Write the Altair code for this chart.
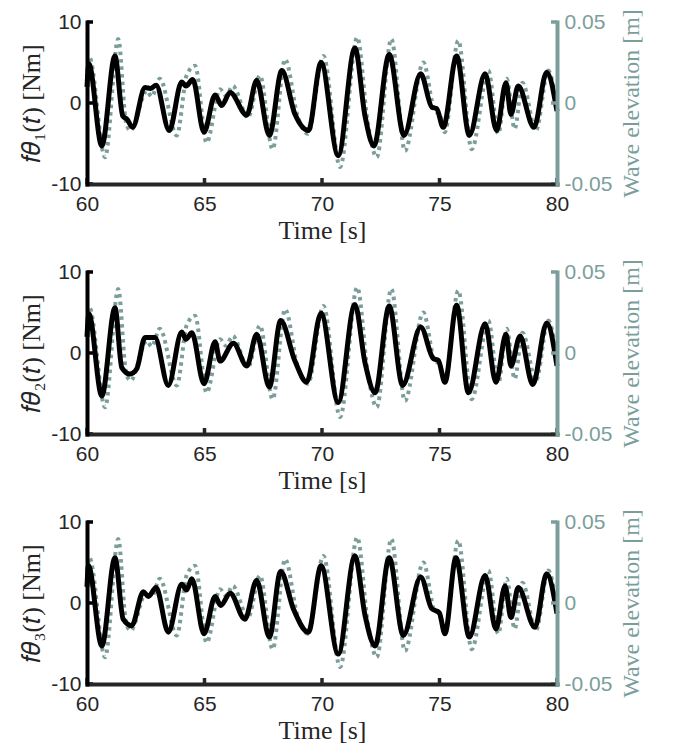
import altair as alt
import pandas as pd

# ---------------- data ----------------
# Force, panel 1  (time [s], force [Nm])
t1 = [60.0, 60.08, 60.63, 61.19, 61.52, 61.7, 61.94, 62.47, 62.7, 62.94, 63.50, 64.03, 64.21, 64.50,
      64.98, 65.45, 65.73, 66.09, 66.80, 67.22, 67.76, 68.29, 68.85, 69.42, 69.96, 70.69, 71.40, 71.83,
      72.21, 72.86, 73.49, 74.20, 74.67, 74.88, 75.16, 75.73, 76.27, 76.94, 77.43, 77.83, 78.04, 78.35,
      79.02, 79.56, 80.0]
f1 = [2.0, 4.8, -5.3, 5.8, -1.6, -2.0, -3.0, 1.9, 1.8, 2.2, -3.4, 2.6, 2.1, 2.9,
      -3.6, 1.0, -0.3, 1.3, -1.5, 2.8, -4.0, 4.0, -1.4, -3.4, 5.0, -6.5, 6.8, -1.6,
      -5.3, 6.0, -4.0, 3.6, -0.5, -0.7, -3.0, 5.8, -4.0, 3.6, -3.4, 2.5, -1.4, 2.1,
      -3.0, 3.8, -1.0]

# Force, panel 2
t2 = [60.0, 60.08, 60.63, 61.19, 61.48, 61.83, 62.11, 62.47, 62.89, 63.46, 64.03, 64.21, 64.46, 64.98,
      65.45, 65.66, 66.23, 66.80, 67.22, 67.76, 68.24, 68.85, 69.35, 69.96, 70.69, 71.40, 71.83, 72.26,
      72.86, 73.43, 74.20, 74.74, 74.95, 75.23, 75.73, 76.23, 76.94, 77.40, 77.83, 78.04, 78.43, 78.97,
      79.56, 80.0]
f2 = [2.0, 4.8, -5.3, 5.6, -1.8, -2.6, -2.0, 1.9, 1.9, -4.0, 2.6, 1.7, 2.5, -3.8,
      1.4, -1.0, 1.2, -1.6, 2.3, -4.2, 4.0, -1.0, -3.6, 4.9, -6.1, 6.0, -1.2, -4.9,
      5.8, -4.0, 3.2, -0.7, -0.9, -3.6, 5.9, -4.9, 3.6, -3.6, 2.3, -1.6, 2.1, -3.9,
      3.7, -1.6]

# Force, panel 3
t3 = [60.0, 60.06, 60.63, 61.19, 61.54, 61.90, 62.40, 62.61, 62.94, 63.46, 64.03, 64.24, 64.46, 64.98,
      65.45, 65.69, 66.09, 66.72, 67.22, 67.76, 68.24, 68.78, 69.42, 69.96, 70.69, 71.40, 71.83, 72.26,
      72.86, 73.46, 74.20, 74.67, 74.99, 75.23, 75.70, 76.27, 76.94, 77.40, 77.79, 78.04, 78.35, 79.06,
      79.56, 80.0]
f3 = [2.0, 4.6, -5.3, 5.6, -2.0, -2.8, 1.4, 0.8, 1.9, -3.6, 2.3, 1.6, 3.0, -3.8,
      0.8, -0.3, 1.2, -2.0, 2.8, -4.2, 3.9, -0.7, -3.6, 4.6, -6.3, 5.8, -1.5, -5.3,
      5.6, -4.0, 3.2, -0.7, -1.2, -3.8, 5.6, -4.2, 3.4, -3.2, 2.1, -1.8, 1.9, -3.0,
      3.6, -1.3]

# Wave elevation (time [s], elevation [m]) - same in every panel
tw = [60.0, 60.1, 60.77, 61.33, 61.66, 61.85, 62.55, 62.75, 63.1, 63.82, 64.25, 64.6, 65.09, 65.66,
      65.92, 66.2, 66.85, 67.36, 67.9, 68.43, 68.95, 69.4, 70.06, 70.77, 71.5, 71.95, 72.33, 72.95,
      73.53, 74.31, 74.8, 75.0, 75.22, 75.8, 76.37, 77.08, 77.5, 77.86, 78.2, 78.53, 79.1, 79.63, 80.0]
wave = [0.015, 0.028, -0.0335, 0.0395, -0.012, -0.017, 0.0075, 0.004, 0.015, -0.020, 0.0175, 0.023,
        -0.0245, 0.0085, 0.0045, 0.0105, -0.009, 0.017, -0.0285, 0.027, -0.0075, -0.019, 0.029,
        -0.0395, 0.0405, -0.0125, -0.0335, 0.0395, -0.0295, 0.025, -0.005, -0.0065, -0.018, 0.0385,
        -0.0285, 0.020, -0.019, 0.015, -0.016, 0.0125, -0.017, 0.020, -0.005]

x_ticks = [60, 65, 70, 75, 80]
left_ticks = [-10, 0, 10]
right_ticks = [-0.05, 0, 0.05]

titles = ["\U0001D453\U0001D703\u2081(\U0001D461) [Nm]",
          "\U0001D453\U0001D703\u2082(\U0001D461) [Nm]",
          "\U0001D453\U0001D703\u2083(\U0001D461) [Nm]"]

# ---------------- styling ----------------
W, H = 470, 162
TEAL = "#7b9e9b"
DARK = "#262626"
SANS = "Liberation Sans"
SERIF = "Liberation Serif"
LBL = 21
TTL = 26

label_expr = "datum.value < 0 ? '-' + format(-datum.value, '~g') : format(datum.value, '~g')"

wave_df = pd.DataFrame({"t": tw, "w": wave})
xt_df = pd.DataFrame({"t": x_ticks})
lt_df = pd.DataFrame({"v": left_ticks})
rt_df = pd.DataFrame({"v": right_ticks})

X_AXIS = alt.Axis(values=x_ticks, title="Time [s]", labelExpr=label_expr, grid=False,
                  ticks=False, domainColor=DARK, domainWidth=4, domainCap="square",
                  labelFlush=False, labelPadding=9, titlePadding=3, zindex=1)
X = alt.X("t:Q", scale=alt.Scale(domain=[60, 80], nice=False, zero=False), axis=X_AXIS)


def panel(t, f, title):
    df = pd.DataFrame({"t": t, "f": f})
    dotted = alt.Chart(wave_df).mark_line(
        color=TEAL, strokeWidth=4, strokeDash=[3.5, 4], interpolate="monotone"
    ).encode(
        x=X,
        y=alt.Y("w:Q", scale=alt.Scale(domain=[-0.05, 0.05], nice=False, zero=False),
                axis=alt.Axis(orient="right", values=right_ticks, labelExpr=label_expr,
                              title="Wave elevation [m]", titleAngle=270, titleBaseline="top",
                              titleColor=TEAL, titleFontSize=24, labelFlush=False,
                              labelColor=TEAL, domainColor=TEAL, domainWidth=4, domainCap="square",
                              ticks=False, grid=False, labelPadding=7, titlePadding=8, zindex=2)),
    )
    black = alt.Chart(df).mark_line(
        color="black", strokeWidth=5, interpolate="monotone"
    ).encode(
        x=X,
        y=alt.Y("f:Q", scale=alt.Scale(domain=[-10, 10], nice=False, zero=False),
                axis=alt.Axis(orient="left", values=left_ticks, labelExpr=label_expr,
                              title=title, domainColor="black", domainWidth=4, domainCap="square",
                              labelFlush=False,
                              ticks=False, grid=False, labelPadding=6, titlePadding=6, zindex=1)),
    )
    xt = alt.Chart(xt_df).mark_rule(color=DARK, strokeWidth=3.5).encode(
        x=X, y=alt.value(H - 6), y2=alt.value(H)
    )
    lt = alt.Chart(lt_df).mark_rule(color="black", strokeWidth=3.5).encode(
        y=alt.Y("v:Q", scale=alt.Scale(domain=[-10, 10], nice=False, zero=False), axis=None),
        x=alt.value(0), x2=alt.value(6)
    )
    rt = alt.Chart(rt_df).mark_rule(color=TEAL, strokeWidth=3.5).encode(
        y=alt.Y("v:Q", scale=alt.Scale(domain=[-0.05, 0.05], nice=False, zero=False), axis=None),
        x=alt.value(W - 6), x2=alt.value(W)
    )
    return alt.layer(dotted, black, xt, lt, rt).resolve_scale(y="independent").properties(
        width=W, height=H
    )


chart = alt.vconcat(
    panel(t1, f1, titles[0]),
    panel(t2, f2, titles[1]),
    panel(t3, f3, titles[2]),
    spacing=15,
).properties(
    padding={"left": 10, "top": 0, "right": 5, "bottom": 5}
).configure_view(stroke=None).configure_axis(
    labelFont=SANS, labelFontSize=LBL, labelColor=DARK,
    titleFont=SERIF, titleFontSize=TTL, titleFontWeight="normal", titleColor=DARK,
)

chart.save("out.html", embed_options={"renderer": "svg", "actions": False})
